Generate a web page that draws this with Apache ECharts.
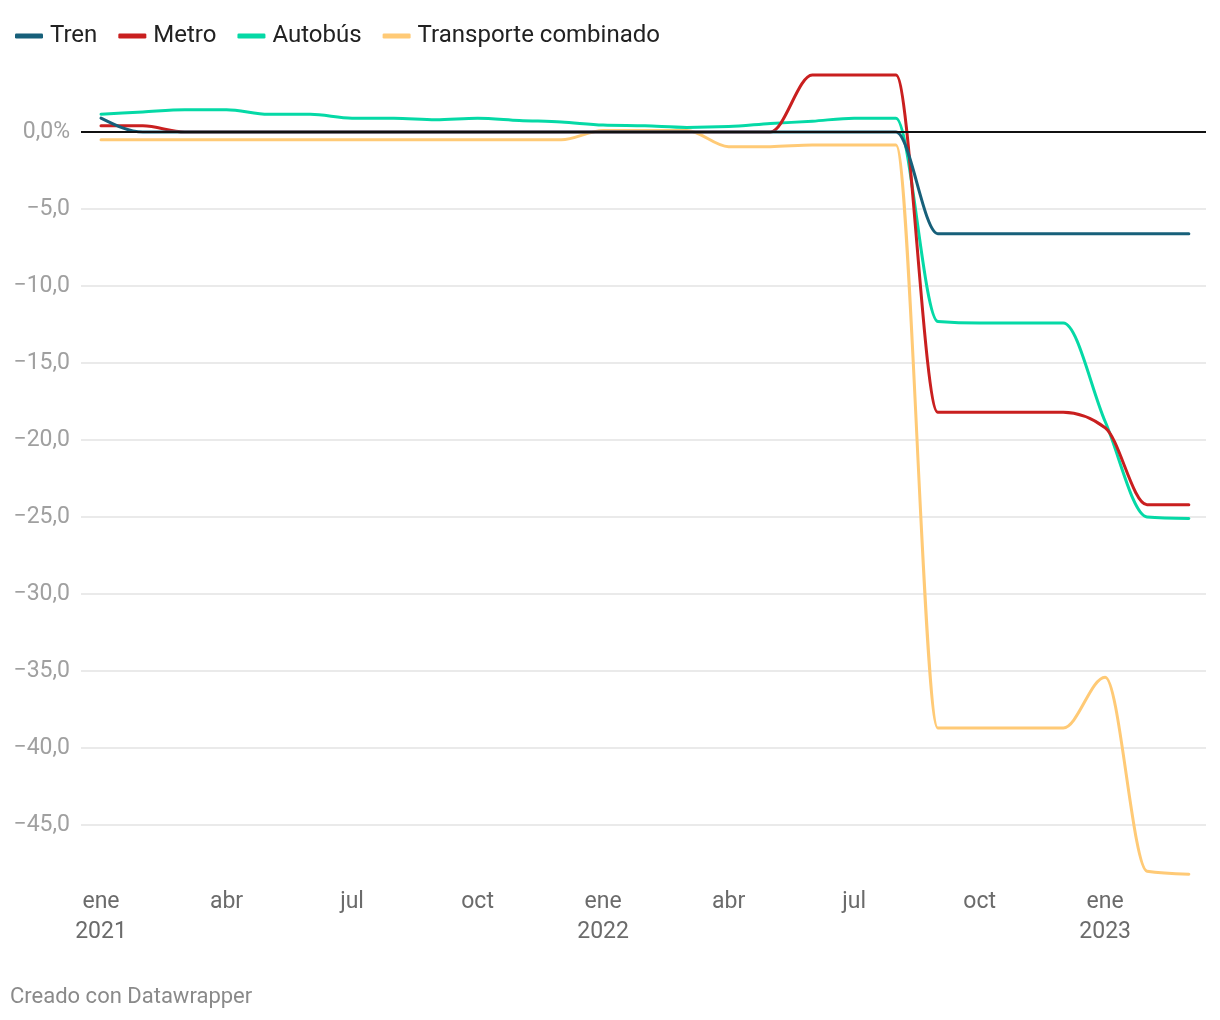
<!DOCTYPE html>
<html>
<head>
<meta charset="utf-8">
<script src="https://cdn.jsdelivr.net/npm/echarts@6/dist/echarts.min.js"></script>
<style>
html,body{margin:0;padding:0;background:#fff;}
#c{width:1220px;height:1020px;}
</style>
</head>
<body>
<div id="c"></div>
<script>
// Monthly, ene 2021 .. mar 2023
const months = ['ene\n2021','feb','mar','abr','may','jun','jul','ago','sep','oct','nov','dic',
                'ene\n2022','feb','mar','abr','may','jun','jul','ago','sep','oct','nov','dic',
                'ene\n2023','feb','mar'];
const xTickIdx = [0,3,6,9,12,15,18,21,24];
const yTicks = [0,-5,-10,-15,-20,-25,-30,-35,-40,-45];

const tren = [0.9,0,0,0,0,0,0,0,0,0,0,0,0,0,0,0,0,0,0,0,-6.6,-6.6,-6.6,-6.6,-6.6,-6.6,-6.6];
const metro = [0.4,0.4,0,0,0,0,0,0,0,0,0,0,0,0,0,0,0,3.7,3.7,3.7,-18.2,-18.2,-18.2,-18.2,-19.2,-24.2,-24.2];
const autobus = [1.15,1.3,1.45,1.45,1.15,1.15,0.9,0.9,0.8,0.9,0.75,0.65,0.45,0.4,0.3,0.35,0.55,0.7,0.9,0.9,-12.3,-12.4,-12.4,-12.4,-18.8,-25.0,-25.1];
const combinado = [-0.5,-0.5,-0.5,-0.5,-0.5,-0.5,-0.5,-0.5,-0.5,-0.5,-0.5,-0.5,0.1,0.1,0.1,-0.95,-0.95,-0.85,-0.85,-0.85,-38.7,-38.7,-38.7,-38.7,-35.4,-48.0,-48.2];

const names = ['Tren','Metro','Autobús','Transporte combinado'];
const colors = {'Tren':'#17607a','Metro':'#c91f1f','Autobús':'#05d9a6','Transporte combinado':'#ffca76'};

function pairs(arr){ return arr.map((v,i)=>[i,v]); }
function fmtY(v){
  if (v === 0) return '0,0%';
  const s = Math.abs(v).toFixed(1).replace('.', ',');
  return (v < 0 ? '\u2212' : '') + s;
}

// monotone-x cubic path (same rule as d3.curveMonotoneX) through pixel points
function monotonePath(pts){
  const n = pts.length;
  if (n < 2) return '';
  const sgn = v => (v > 0 ? 1 : v < 0 ? -1 : 0);
  const h = [], s = [];
  for (let i = 0; i < n - 1; i++){
    h[i] = pts[i+1][0] - pts[i][0];
    s[i] = (pts[i+1][1] - pts[i][1]) / h[i];
  }
  const t = new Array(n);
  for (let i = 1; i < n - 1; i++){
    const s0 = s[i-1], s1 = s[i], h0 = h[i-1], h1 = h[i];
    const p = (s0 * h1 + s1 * h0) / (h0 + h1);
    t[i] = (sgn(s0) + sgn(s1)) * Math.min(Math.abs(s0), Math.abs(s1), 0.5 * Math.abs(p)) || 0;
  }
  if (n > 2){
    t[0] = (3 * s[0] - t[1]) / 2;
    t[n-1] = (3 * s[n-2] - t[n-2]) / 2;
  } else { t[0] = t[1] = s[0]; }
  let d = 'M' + pts[0][0] + ',' + pts[0][1];
  for (let i = 0; i < n - 1; i++){
    const dx = h[i] / 3;
    d += 'C' + (pts[i][0] + dx) + ',' + (pts[i][1] + dx * t[i]) + ',' +
         (pts[i+1][0] - dx) + ',' + (pts[i+1][1] - dx * t[i+1]) + ',' +
         pts[i+1][0] + ',' + pts[i+1][1];
  }
  return d;
}

function mk(name, arr, z){
  const data = pairs(arr);
  return {
    name: name, type: 'custom', data: data,
    encode: {x: 0, y: 1},
    itemStyle: {color: colors[name]},
    z: z,
    renderItem: function(params, api){
      if (params.dataIndex !== 0) return null;
      const pts = data.map(d => api.coord(d));
      return {
        type: 'path',
        shape: {pathData: monotonePath(pts)},
        style: {fill: 'none', stroke: colors[name], lineWidth: 3, lineCap: 'round', lineJoin: 'round'}
      };
    }
  };
}

const zeroSeries = {
  name: 'zero', type: 'custom', data: [[0, 0]], encode: {x: 0, y: 1}, z: 10, silent: true,
  renderItem: function(params, api){
    const cs = params.coordSys;
    const y = api.coord([0, 0])[1];
    return {type: 'line', shape: {x1: cs.x, y1: y, x2: cs.x + cs.width, y2: y},
            style: {stroke: '#111', lineWidth: 2}};
  }
};

const chart = echarts.init(document.getElementById('c'), null, {renderer: 'canvas'});
const series = [
  mk('Transporte combinado', combinado, 2),
  mk('Autobús', autobus, 3),
  mk('Metro', metro, 4),
  mk('Tren', tren, 5),
  zeroSeries
];

chart.setOption({
  animation: false,
  textStyle: {fontFamily: 'Roboto'},
  legend: {
    data: names, left: 10, top: 19, itemWidth: 28, itemHeight: 5, itemGap: 21,
    icon: 'roundRect',
    textStyle: {fontSize: 24, color: '#222', fontFamily: 'Roboto', padding: [0, 0, 0, 2]},
    selectedMode: false
  },
  grid: {left: 81, right: 14, top: 55, bottom: 118, containLabel: false},
  xAxis: {
    type: 'value', min: -0.478, max: 26.41,
    axisLine: {show: false}, axisTick: {show: false}, splitLine: {show: false},
    axisLabel: {
      customValues: xTickIdx,
      formatter: v => months[Math.round(v)],
      fontSize: 23, color: '#6b6b6b', lineHeight: 30, margin: -15,
      fontFamily: 'Roboto'
    }
  },
  yAxis: {
    type: 'value', min: -50, max: 5, interval: 5,
    axisLine: {show: false}, axisTick: {show: false},
    axisLabel: {
      formatter: v => (yTicks.indexOf(v) >= 0 ? fmtY(v) : ''),
      fontSize: 23, color: '#a0a0a0', margin: 11, fontFamily: 'Roboto'
    },
    splitLine: {
      lineStyle: {
        width: 1.5,
        color: ['transparent','#e3e3e3','#e3e3e3','#e3e3e3','#e3e3e3','#e3e3e3','#e3e3e3','#e3e3e3','#e3e3e3','#e3e3e3','#e3e3e3','transparent']
      }
    }
  },
  graphic: [{
    type: 'text', left: 10, top: 986,
    style: {text: 'Creado con Datawrapper', fontSize: 22, fill: '#8a8a8a', fontFamily: 'Roboto'}
  }],
  series: series
});
</script>
</body>
</html>
